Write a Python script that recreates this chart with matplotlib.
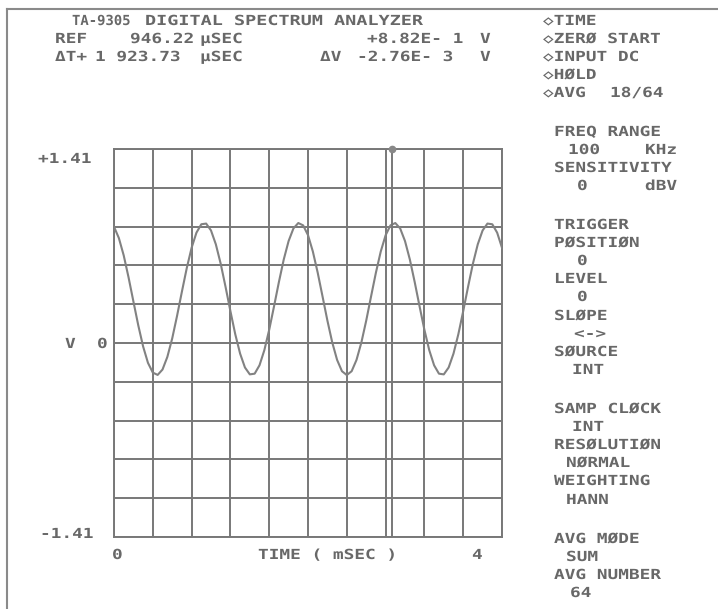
import numpy as np
import matplotlib
matplotlib.use("Agg")
import matplotlib.pyplot as plt
import matplotlib.patheffects as pe
from matplotlib.transforms import Affine2D
from matplotlib.lines import Line2D

# ---------------- data ----------------
sample_step_ms = 0.05
volts = [
    0.845, 0.763, 0.637, 0.477, 0.302, 0.129, -0.025, -0.144, -0.215, -0.232,
    -0.193, -0.101, 0.033, 0.197, 0.373, 0.544, 0.692, 0.802, 0.863, 0.868,
    0.818, 0.717, 0.576, 0.408, 0.232, 0.064, -0.077, -0.178, -0.228, -0.223,
    -0.162, -0.052, 0.096, 0.267, 0.443, 0.607, 0.741, 0.833, 0.872, 0.855,
    0.784, 0.665, 0.511, 0.338, 0.163, 0.004, -0.123, -0.205, -0.233, -0.205,
    -0.123, 0.003, 0.162, 0.338, 0.511, 0.665, 0.783, 0.855, 0.872, 0.833,
    0.741, 0.607, 0.443, 0.267, 0.096, -0.052, -0.162, -0.223, -0.228, -0.178,
    -0.077, 0.064, 0.231, 0.408, 0.576, 0.717, 0.818, 0.868, 0.863, 0.802,
    0.692,
]
time_ms = np.round(np.arange(len(volts)) * sample_step_ms, 3)

x_limits = [0.0, 4.0]
y_limits = [-1.41, 1.41]
n_div = 10
ref_us = 946.22
delta_t_us = 1923.73

y_tick_labels = ["+1.41", "0", "-1.41"]
x_tick_labels = ["0", "4"]
x_axis_title = "TIME ( mSEC )"
y_axis_title = "V"

header_title = ["TA-9305", "DIGITAL SPECTRUM ANALYZER"]
header_ref = ["REF", "946.22", "μSEC", "+8.82E- 1", "V"]
header_delta = ["ΔT+", "1 923.73", "μSEC", "ΔV", "-2.76E- 3", "V"]

status_lines = ["◇TIME", "◇ZERØ START", "◇INPUT DC", "◇HØLD", "◇AVG"]
avg_count = "18/64"
panel_items = [
    ("FREQ RANGE", 0), ("100", 1), ("SENSITIVITY", 0), ("0", 1),
    ("TRIGGER", 0), ("PØSITIØN", 0), ("0", 1), ("LEVEL", 0), ("0", 1),
    ("SLØPE", 0), ("<->", 1), ("SØURCE", 0), ("INT", 1),
    ("SAMP CLØCK", 0), ("INT", 1), ("RESØLUTIØN", 0), ("NØRMAL", 1),
    ("WEIGHTING", 0), ("HANN", 1),
    ("AVG MØDE", 0), ("SUM", 1), ("AVG NUMBER", 0), ("64", 1),
]
unit_freq = "KHz"
unit_sens = "dBV"

# ---------------- styling helpers ----------------
W, H = 718, 609
TXT = "#686868"
LINE = "#787878"
FAM = ["DejaVu Sans Mono", "DejaVu Sans"]


class StretchX(pe.AbstractPathEffect):
    """Widen glyphs horizontally about the text anchor (plotter-style font)."""

    def __init__(self, sx):
        super().__init__()
        self.sx = sx

    def draw_path(self, renderer, gc, tpath, affine, rgbFace=None):
        m = affine.get_matrix()
        x0, y0 = m[0, 2], m[1, 2]
        st = Affine2D().translate(-x0, -y0).scale(self.sx, 1.0).translate(x0, y0)
        renderer.draw_path(gc, tpath, affine + st, rgbFace)


fig = plt.figure(figsize=(W / 100, H / 100), dpi=100)
fig.patch.set_facecolor("white")


def ptxt(x, y, s, sx=1.28, size=10):
    # x = left edge in pixels, y = vertical centre of capitals in pixels (from top)
    fig.text(x / W, 1 - (y + 5) / H, s, ha="left", va="baseline",
             fontsize=size, family=FAM, color=TXT, fontweight="bold",
             path_effects=[StretchX(sx)])


# ---------------- plot area ----------------
L, R, T, B = 114, 502, 149, 537
ax = fig.add_axes([L / W, 1 - B / H, (R - L) / W, (B - T) / H])
ax.set_xlim(*x_limits)
ax.set_ylim(*y_limits)
ax.set_xticks(np.linspace(x_limits[0], x_limits[1], n_div + 1))
ax.set_yticks(np.linspace(y_limits[0], y_limits[1], n_div + 1))
ax.tick_params(length=0, labelbottom=False, labelleft=False)
ax.grid(True, color=LINE, linewidth=1.4)
for sp in ax.spines.values():
    sp.set_color(LINE)
    sp.set_linewidth(1.4)

ax.plot(time_ms, volts, color="#828282", linewidth=1.5, zorder=3)

cursor_ms = (ref_us + delta_t_us) / 1000.0
ax.axvline(cursor_ms, color=LINE, linewidth=1.4, zorder=3)
ax.plot([cursor_ms], [y_limits[1]], marker="o", markersize=4.5,
        color="#888888", clip_on=False, zorder=4)

# ---------------- outer frame ----------------
fig.add_artist(Line2D([7 / W, 7 / W], [0, 1 - 9 / H], color="#8a8a8a", linewidth=1.5))
fig.add_artist(Line2D([7 / W, 1], [1 - 9 / H, 1 - 9 / H], color="#8a8a8a", linewidth=1.5))

# ---------------- header ----------------
ptxt(72, 20, header_title[0], sx=1.0)
ptxt(145, 20, header_title[1], sx=1.33)

ptxt(55, 38, header_ref[0])
ptxt(130, 38, header_ref[1])
ptxt(200, 38, header_ref[2])
ptxt(367, 38, header_ref[3])
ptxt(480, 38, header_ref[4])

ptxt(55, 56, header_delta[0])
ptxt(95, 56, header_delta[1])
ptxt(200, 56, header_delta[2])
ptxt(320, 56, header_delta[3])
ptxt(357, 56, header_delta[4])
ptxt(480, 56, header_delta[5])

# ---------------- axis labels ----------------
ptxt(38, 158, y_tick_labels[0])
ptxt(65, 343, y_axis_title)
ptxt(97, 343, y_tick_labels[1])
ptxt(40, 533, y_tick_labels[2])

ptxt(112, 554, x_tick_labels[0])
ptxt(258, 554, x_axis_title)
ptxt(472, 554, x_tick_labels[1])

# ---------------- right panel ----------------
for i, s in enumerate(status_lines):
    ptxt(543, 20 + 18 * i, s)
ptxt(610, 92, avg_count)

rows_y = [131, 149, 167, 185,
          224, 242, 260, 278, 296, 315, 333, 351, 369,
          408, 426, 444, 462, 480, 499,
          538, 556, 574, 592]
value_x = {"100": 568, "0": 577, "<->": 574, "INT": 572, "NØRMAL": 566,
           "HANN": 566, "SUM": 566, "64": 570}
for (s, lvl), y in zip(panel_items, rows_y):
    x = 554 if lvl == 0 else value_x.get(s, 568)
    ptxt(x, y, s)
ptxt(645, 149, unit_freq)
ptxt(645, 185, unit_sens)

fig.savefig("out.png", dpi=100, facecolor="white")
